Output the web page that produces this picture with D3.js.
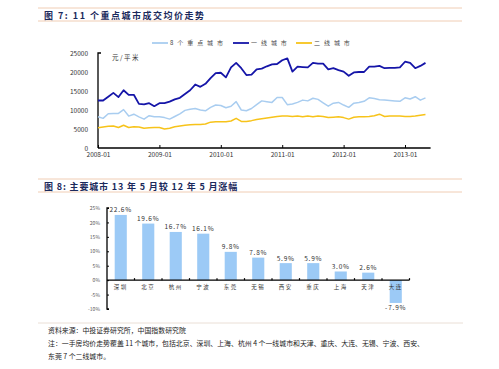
<!DOCTYPE html>
<html lang="zh">
<head>
<meta charset="UTF-8">
<script src="https://cdnjs.cloudflare.com/ajax/libs/d3/7.8.5/d3.min.js"></script>
<style>
  body { margin: 0; background: #fff; }
  svg { display: block; }
  text { font-family: "Noto Sans CJK SC", "DejaVu Sans", sans-serif; }
</style>
</head>
<body>
<div id="chart"></div>
<script>
// ---- figure 7 data: monthly average price, 2008-01 .. 2013-05 (yuan / m2)
const yearLabels = ["2008-01", "2009-01", "2010-01", "2011-01", "2012-01", "2013-01"];
const seriesNames = ["8 个 重 点 城 市", "一 线 城 市", "二 线 城 市"];
const key8 = [8200, 7800, 9000, 9100, 9100, 10100, 8400, 8900, 8200, 7600, 8500, 8200,
  8200, 8000, 7600, 8300, 9000, 9900, 10200, 10400, 10000, 9800, 10700, 11300,
  11200, 10600, 11000, 12200, 10000, 9800, 10400, 11400, 12400, 12200, 12000, 13300,
  13300, 11400, 11600, 12000, 12600, 12400, 13100, 12800, 11900, 11000, 11800, 12000,
  11300, 10700, 11800, 12000, 12300, 13200, 13000, 12700, 12600, 12500, 12400, 12300,
  13200, 12900, 13500, 12600, 13200];
const tier1 = [12500, 12500, 13500, 14500, 13400, 15200, 14000, 14000, 11600, 11500, 11800, 11000,
  11800, 11800, 12200, 12800, 13200, 14200, 15200, 16700, 16100, 16900, 18400, 19700,
  19800, 18600, 21200, 22400, 21000, 19200, 19300, 20700, 20900, 21500, 22000, 22100,
  23100, 23600, 20100, 21400, 21300, 21200, 22400, 22200, 22200, 20700, 21000, 20500,
  20100, 19000, 19900, 20000, 20000, 21400, 21400, 21600, 21000, 21100, 21100, 21200,
  22700, 22400, 21000, 21600, 22400];
const tier2 = [5300, 5500, 5700, 5800, 5400, 6000, 5400, 5600, 5500, 5200, 5300, 5400,
  5400, 5000, 5200, 5600, 5800, 6000, 6100, 6200, 6200, 6300, 6800, 6900,
  6900, 6900, 7100, 7800, 7000, 7000, 7200, 7500, 7700, 7900, 8100, 8300,
  8400, 8400, 8300, 8400, 8200, 8400, 8200, 8400, 8300, 8000, 8100, 8200,
  8000, 7600, 8100, 8200, 8200, 8300, 8500, 8900, 8300, 8400, 8400, 8400,
  8300, 8300, 8400, 8600, 8800];
const priceTicks = [0, 5000, 10000, 15000, 20000, 25000];

// ---- figure 8 data: May 2013 vs May 2012 growth (%)
const cities = ["深圳", "北京", "杭州", "宁波", "东莞", "无锡", "西安", "重庆", "上海", "天津", "大连"];
const growth = [22.6, 19.6, 16.7, 16.1, 9.8, 7.8, 5.9, 5.9, 3.0, 2.6, -7.9];
const growthTicks = [-10, -5, 0, 5, 10, 15, 20, 25];

const W = 499, H = 369;
const svg = d3.select('#chart').append('svg')
  .attr('width', W).attr('height', H);

// section header with two rules
function header(y, label, spacing) {
  svg.append('line').attr('x1', 38).attr('x2', 462).attr('y1', y - 7).attr('y2', y - 7)
    .attr('stroke', '#f0cdb4').attr('stroke-width', 1);
  svg.append('line').attr('x1', 38).attr('x2', 462).attr('y1', y + 6).attr('y2', y + 6)
    .attr('stroke', '#f0cdb4').attr('stroke-width', 1);
  svg.append('text').attr('x', 44).attr('y', y + 3.5)
    .attr('font-size', 9).attr('font-weight', 'bold').attr('fill', '#1b2a5c')
    .attr('letter-spacing', spacing)
    .text(label);
}
header(15, "图 7: 11 个重点城市成交均价走势", 1.5);
header(186, "图 8: 主要城市 13 年 5 月较 12 年 5 月涨幅", 0.85);

// ================= line chart
const x = d3.scaleLinear().domain([0, 65]).range([98, 430.6]);
const y = d3.scaleLinear().domain([0, 25000]).range([148, 53]);

const g1 = svg.append('g');
g1.append('g')
  .attr('transform', 'translate(98,0)')
  .call(d3.axisLeft(y).tickValues(priceTicks).tickSize(0).tickPadding(10).tickFormat(d3.format('d')))
  .call(a => a.select('.domain').remove())
  .selectAll('text').attr('font-family', 'DejaVu Sans').attr('font-size', 6.5).attr('fill', '#333');

g1.append('g')
  .attr('transform', 'translate(0,148)')
  .call(d3.axisBottom(x).tickValues([0, 12, 24, 36, 48, 60]).tickSize(-3).tickPadding(4)
    .tickFormat((d, i) => yearLabels[i]))
  .call(a => a.select('.domain').attr('d', 'M98,0H430.6').attr('stroke-width', 1.3))
  .selectAll('text').attr('font-family', 'DejaVu Sans').attr('font-size', 6.5).attr('fill', '#333');

g1.append('path').attr('d', `M${98 + 3},53H98V148`).attr('fill', 'none')
  .attr('stroke', '#000').attr('stroke-width', 1.3);

g1.append('text').attr('x', 112).attr('y', 60).attr('font-size', 6.5).attr('fill', '#333')
  .attr('letter-spacing', 1.5).text('元/平米');

const lineColors = ['#a9cdf0', '#1515a8', '#f7c31a'];
const lineWidths = [1.5, 1.8, 1.5];
const line = d3.line().x((d, i) => x(i)).y(d => y(d));
[key8, tier2, tier1].forEach(s => {
  const k = s === key8 ? 0 : s === tier1 ? 1 : 2;
  g1.append('path').datum(s).attr('d', line).attr('fill', 'none')
    .attr('stroke', lineColors[k]).attr('stroke-width', lineWidths[k])
    .attr('stroke-linejoin', 'round');
});

// legend
const legendX = [152, 233, 296];
seriesNames.forEach((n, i) => {
  svg.append('line').attr('x1', legendX[i]).attr('x2', legendX[i] + 16)
    .attr('y1', 43).attr('y2', 43).attr('stroke', lineColors[i]).attr('stroke-width', 1.8);
  svg.append('text').attr('x', legendX[i] + 18).attr('y', 45.3)
    .attr('font-size', 6).attr('letter-spacing', 1.3).attr('fill', '#444').text(n);
});

// ================= bar chart
const bx = d3.scaleBand().domain(cities).range([107, 409.5]).padding(0);
const by = d3.scaleLinear().domain([-10, 25]).range([309, 208]);
const barW = bx.bandwidth() * 0.44;

const g2 = svg.append('g');
g2.selectAll('rect').data(growth).join('rect')
  .attr('x', (d, i) => bx(cities[i]) + (bx.bandwidth() - barW) / 2)
  .attr('width', barW)
  .attr('y', d => by(Math.max(0, d)))
  .attr('height', d => Math.abs(by(d) - by(0)))
  .attr('fill', '#9ccaf6');

g2.selectAll('.val').data(growth).join('text')
  .attr('class', 'val')
  .attr('x', (d, i) => bx(cities[i]) + bx.bandwidth() / 2)
  .attr('y', d => d >= 0 ? by(d) - 2.5 : by(d) + 7)
  .attr('text-anchor', 'middle').attr('font-family', 'DejaVu Sans Mono')
  .attr('font-size', 6.5).attr('letter-spacing', 0.8).attr('fill', '#333')
  .text(d => d.toFixed(1) + '%');

g2.append('g')
  .attr('transform', `translate(0,${by(0)})`)
  .call(d3.axisBottom(bx).tickValues([]).tickSize(0))
  .call(a => a.select('.domain').attr('d', 'M107,0H409.5').attr('stroke-width', 1.3));

g2.selectAll('.sep').data(cities).join('line')
  .attr('class', 'sep')
  .attr('x1', d => bx(d) + bx.bandwidth()).attr('x2', d => bx(d) + bx.bandwidth())
  .attr('y1', by(0) - 2).attr('y2', by(0))
  .attr('stroke', '#000').attr('stroke-width', 1.2);

g2.selectAll('.cat').data(cities).join('text')
  .attr('class', 'cat')
  .attr('x', d => bx(d) + bx.bandwidth() / 2).attr('y', by(0) + 9)
  .attr('text-anchor', 'middle').attr('font-size', 5.5).attr('letter-spacing', 1.5)
  .attr('fill', '#333').text(d => d);

g2.append('g')
  .attr('transform', 'translate(107,0)')
  .call(d3.axisLeft(by).tickValues(growthTicks).tickSize(-2).tickPadding(7)
    .tickFormat(d => d + '%'))
  .call(a => a.select('.domain').attr('d', 'M2,208H0V309H2').attr('stroke-width', 1.3))
  .selectAll('text').attr('font-family', 'DejaVu Sans').attr('font-size', 5).attr('fill', '#555');

// ================= footer
svg.append('line').attr('x1', 38).attr('x2', 463).attr('y1', 323).attr('y2', 323)
  .attr('stroke', '#eadfd6').attr('stroke-width', 1);
const notes = [
  "资料来源：中投证券研究所，中国指数研究院",
  "注：一手房均价走势覆盖 11 个城市，包括北京、深圳、上海、杭州 4 个一线城市和天津、重庆、大连、无锡、宁波、西安、",
  "东莞 7 个二线城市。"
];
notes.forEach((t, i) => {
  svg.append('text').attr('x', 48).attr('y', 332.5 + i * 13.3)
    .attr('font-size', 6.9).attr('fill', '#222').text(t);
});
</script>
</body>
</html>
